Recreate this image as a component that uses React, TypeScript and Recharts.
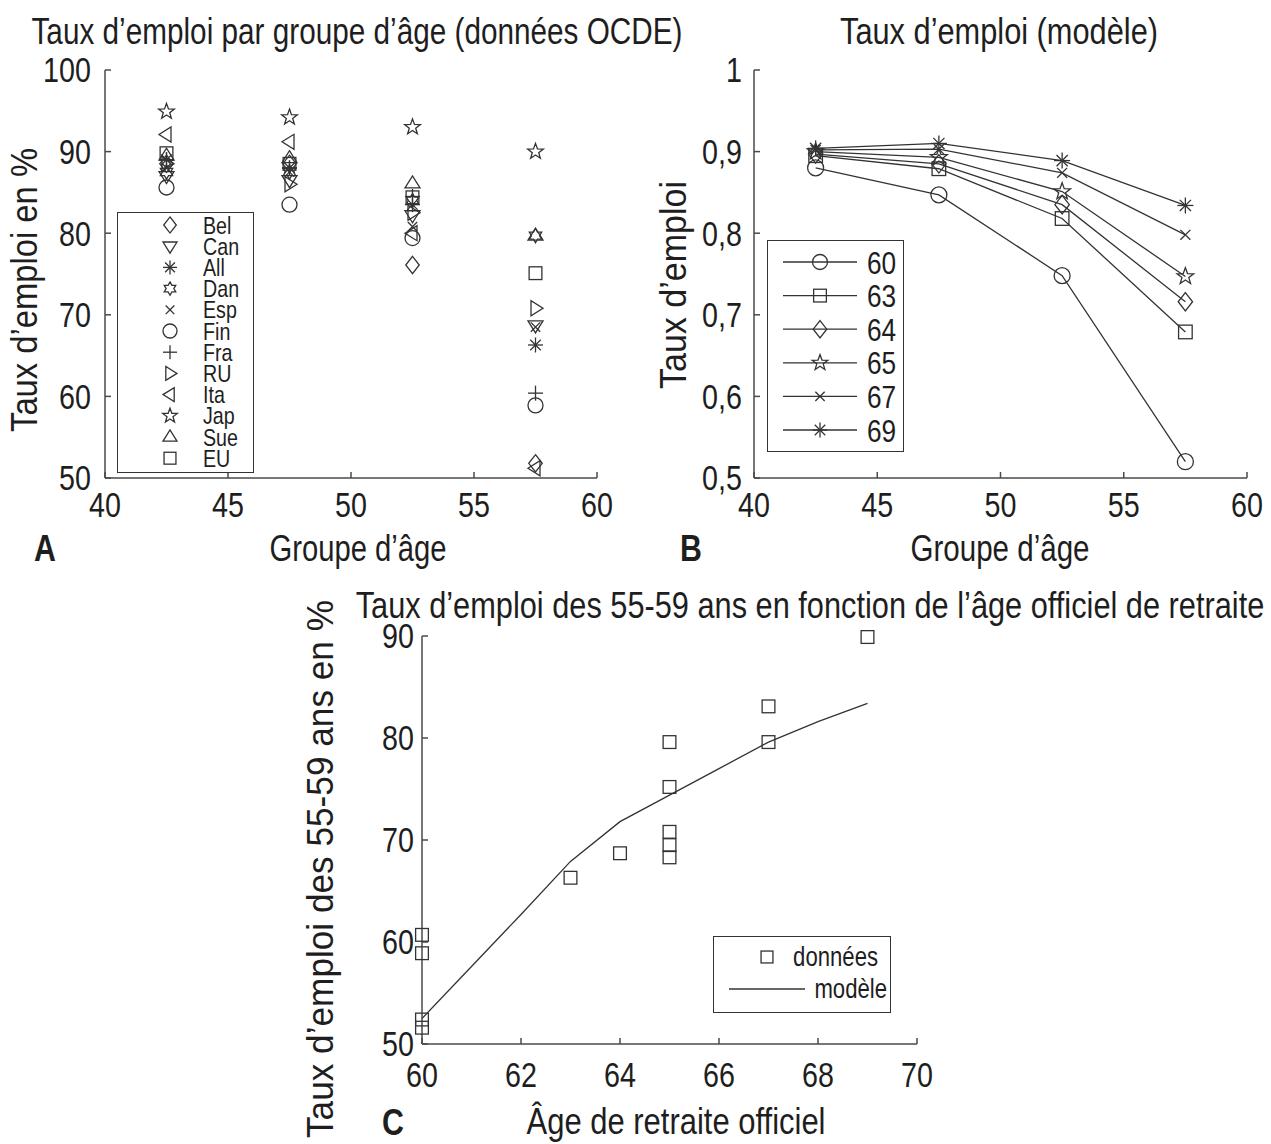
import React from "react";
import {
  ScatterChart,
  Scatter,
  Line,
  ComposedChart,
  XAxis,
  YAxis,
  Legend,
} from "recharts";

const FONT = "'Liberation Sans', Arial, sans-serif";
const NARROW = 0.82; // squeeze to mimic a condensed face
const INK = "#1e1e1e";
const AXIS = "#4a4a4a";
const LINE = "#333333";
const TICK_SIZE = 35;

type MarkerKind = "o" | "s" | "d" | "v" | "^" | "<" | ">" | "*" | "x" | "+" | "p" | "h";

// ---- panel A : OECD data by age group
const groupAges = [42.5, 47.5, 52.5, 57.5];
const countryNames = ["Bel", "Can", "All", "Dan", "Esp", "Fin", "Fra", "RU", "Ita", "Jap", "Sue", "EU"];
const countryMarkers: MarkerKind[] = ["d", "v", "*", "h", "x", "o", "+", ">", "<", "p", "^", "s"];
const belRates = [88.5, 88.5, 76.1, 51.8];
const canRates = [87, 86.5, 82.2, 68.7];
const allRates = [89, 88, 83.5, 66.3];
const danRates = [87.5, 87.5, 84, 79.7];
const espRates = [88, 87.5, 80.8, 68.5];
const finRates = [85.6, 83.5, 79.4, 58.9];
const fraRates = [89, 88, 84.5, 60.4];
const ruRates = [88.5, 86, 82.5, 70.8];
const itaRates = [92.1, 91.2, 80, 51.2];
const japRates = [94.9, 94.2, 93, 90];
const sueRates = [89.5, 89.2, 86.1, 79.7];
const euRates = [89.8, 88.5, 84.4, 75.1];
const countryRates = [belRates, canRates, allRates, danRates, espRates, finRates, fraRates, ruRates, itaRates, japRates, sueRates, euRates];
const ageTicks = [40, 45, 50, 55, 60];
const pctTicksA = [50, 60, 70, 80, 90, 100];

// ---- panel B : model
const modelLabels = ["60", "63", "64", "65", "67", "69"];
const modelMarkers: MarkerKind[] = ["o", "s", "d", "p", "x", "*"];
const model60 = [0.88, 0.847, 0.748, 0.52];
const model63 = [0.895, 0.879, 0.818, 0.679];
const model64 = [0.897, 0.885, 0.835, 0.716];
const model65 = [0.9, 0.893, 0.851, 0.747];
const model67 = [0.902, 0.903, 0.874, 0.798];
const model69 = [0.904, 0.91, 0.889, 0.834];
const modelSeries = [model60, model63, model64, model65, model67, model69];
const rateTicksB = [0.5, 0.6, 0.7, 0.8, 0.9, 1];

// ---- panel C : 55-59 employment vs official retirement age
const officialAges = [60, 60, 60, 60, 63, 64, 65, 65, 65, 65, 65, 67, 67, 69];
const seniorRates = [60.7, 58.9, 52.4, 51.6, 66.3, 68.7, 79.6, 75.2, 70.8, 69.5, 68.3, 83.1, 79.6, 89.9];
const fitAges = [60, 61, 62, 63, 64, 65, 66, 67, 68, 69];
const fitRates = [52.5, 57.6, 62.7, 67.9, 71.8, 74.4, 77.0, 79.6, 81.6, 83.4];
const retTicks = [60, 62, 64, 66, 68, 70];
const pctTicksC = [50, 60, 70, 80, 90];

const pts = (cx: number, cy: number, list: number[][]) =>
  list.map(([dx, dy]) => `${cx + dx},${cy + dy}`).join(" ");

function starPoints(n: number, outer: number, inner: number, rot: number) {
  const out: number[][] = [];
  for (let i = 0; i < n * 2; i++) {
    const rad = i % 2 === 0 ? outer : inner;
    const a = rot + (Math.PI * i) / n;
    out.push([rad * Math.cos(a), rad * Math.sin(a)]);
  }
  return out;
}

function Marker({ kind, cx, cy, size = 15 }: { kind: MarkerKind; cx: number; cy: number; size?: number }) {
  const r = size / 2;
  const st = { fill: "none", stroke: LINE, strokeWidth: 1.3 };
  switch (kind) {
    case "o":
      return <circle cx={cx} cy={cy} r={r} {...st} />;
    case "s": {
      const h = r * 0.85;
      return <rect x={cx - h} y={cy - h} width={2 * h} height={2 * h} {...st} />;
    }
    case "d":
      return <polygon points={pts(cx, cy, [[0, -r * 1.15], [r * 0.9, 0], [0, r * 1.15], [-r * 0.9, 0]])} {...st} />;
    case "v":
      return <polygon points={pts(cx, cy, [[-r, -r * 0.6], [r, -r * 0.6], [0, r]])} {...st} />;
    case "^":
      return <polygon points={pts(cx, cy, [[-r, r * 0.6], [r, r * 0.6], [0, -r]])} {...st} />;
    case ">":
      return <polygon points={pts(cx, cy, [[-r * 0.6, -r], [-r * 0.6, r], [r, 0]])} {...st} />;
    case "<":
      return <polygon points={pts(cx, cy, [[r * 0.6, -r], [r * 0.6, r], [-r, 0]])} {...st} />;
    case "p":
      return <polygon points={pts(cx, cy, starPoints(5, r * 1.1, r * 0.45, -Math.PI / 2))} {...st} />;
    case "h":
      return <polygon points={pts(cx, cy, starPoints(6, r * 0.95, r * 0.55, -Math.PI / 2))} {...st} />;
    case "+":
      return (
        <g {...st}>
          <line x1={cx - r} y1={cy} x2={cx + r} y2={cy} />
          <line x1={cx} y1={cy - r} x2={cx} y2={cy + r} />
        </g>
      );
    case "x": {
      const d = r * 0.62;
      return (
        <g {...st}>
          <line x1={cx - d} y1={cy - d} x2={cx + d} y2={cy + d} />
          <line x1={cx - d} y1={cy + d} x2={cx + d} y2={cy - d} />
        </g>
      );
    }
    default: {
      const d = r * 0.7;
      return (
        <g {...st}>
          <line x1={cx - r} y1={cy} x2={cx + r} y2={cy} />
          <line x1={cx} y1={cy - r} x2={cx} y2={cy + r} />
          <line x1={cx - d} y1={cy - d} x2={cx + d} y2={cy + d} />
          <line x1={cx - d} y1={cy + d} x2={cx + d} y2={cy - d} />
        </g>
      );
    }
  }
}

interface CTextProps {
  x: number;
  y: number;
  size: number;
  anchor?: "start" | "middle" | "end";
  rotate?: number;
  bold?: boolean;
  width?: number;
  children: React.ReactNode;
}

// condensed-looking text: either squeezed by a fixed factor or fitted to a measured width
function CText({ x, y, size, anchor = "start", rotate = 0, bold = false, width, children }: CTextProps) {
  const fit = width !== undefined;
  return (
    <text
      transform={`translate(${x},${y}) rotate(${rotate})${fit ? "" : ` scale(${NARROW},1)`}`}
      textAnchor={anchor}
      fontSize={size}
      fontFamily={FONT}
      fontWeight={bold ? "bold" : "normal"}
      fill={INK}
      textLength={fit ? width : undefined}
      lengthAdjust={fit ? "spacingAndGlyphs" : undefined}
    >
      {children}
    </text>
  );
}

const commaFmt = (v: number) => (v === 1 ? "1" : v.toFixed(1).replace(".", ","));

const makeTick = (side: "bottom" | "left", fmt?: (v: number) => string) => (p: any) => {
  const v = p.payload.value as number;
  const dy = side === "bottom" ? TICK_SIZE * 0.71 : TICK_SIZE * 0.355;
  return (
    <CText x={p.x} y={p.y + dy} size={TICK_SIZE} anchor={side === "bottom" ? "middle" : "end"}>
      {fmt ? fmt(v) : String(v)}
    </CText>
  );
};

// tick marks only, no label (top and right edges of the box)
const noLabel = () => <g />;

function frameAxes(xDomain: number[], xTicks: number[], yDomain: number[], yTicks: number[], yWidth: number, xHeight: number, yFmt: ((v: number) => string) | undefined, xMargin: number, yMargin: number) {
  return [
    <XAxis key="xb" xAxisId="b" type="number" dataKey="x" domain={xDomain} ticks={xTicks} interval={0}
      height={xHeight} stroke={AXIS} strokeWidth={1.5} tickSize={-6} tickMargin={xMargin} tick={makeTick("bottom")} />,
    <XAxis key="xt" xAxisId="t" orientation="top" type="number" dataKey="x" domain={xDomain} ticks={xTicks} interval={0}
      height={0} stroke={AXIS} strokeWidth={1.5} tickSize={-6} tick={noLabel} />,
    <YAxis key="yl" yAxisId="l" type="number" dataKey="y" domain={yDomain} ticks={yTicks} interval={0}
      width={yWidth} stroke={AXIS} strokeWidth={1.5} tickSize={-6} tickMargin={yMargin} tick={makeTick("left", yFmt)} />,
    <YAxis key="yr" yAxisId="r" orientation="right" type="number" dataKey="y" domain={yDomain} ticks={yTicks} interval={0}
      width={0} stroke={AXIS} strokeWidth={1.5} tickSize={-6} tick={noLabel} />,
  ];
}

function CountryLegend() {
  return (
    <div style={{ width: 137, height: 261, border: `1.5px solid ${LINE}`, boxSizing: "border-box", background: "#fff" }}>
      <svg width={134} height={258} style={{ display: "block" }}>
        {countryNames.map((n, i) => (
          <g key={n}>
            <Marker kind={countryMarkers[i]} cx={52} cy={12 + 21.2 * i} size={14} />
            <CText x={85} y={12 + 21.2 * i + 8.5} size={24}>{n}</CText>
          </g>
        ))}
      </svg>
    </div>
  );
}

function ModelLegend() {
  return (
    <div style={{ width: 137, height: 212, border: `1.5px solid ${LINE}`, boxSizing: "border-box", background: "#fff" }}>
      <svg width={134} height={209} style={{ display: "block" }}>
        {modelLabels.map((n, i) => {
          const y = 21 + 33.6 * i;
          return (
            <g key={n}>
              <line x1={15} x2={89} y1={y} y2={y} stroke={LINE} strokeWidth={1.3} />
              <Marker kind={modelMarkers[i]} cx={52} cy={y} size={15} />
              <CText x={99} y={y + 11.5} size={32}>{n}</CText>
            </g>
          );
        })}
      </svg>
    </div>
  );
}

function FitLegend() {
  return (
    <div style={{ width: 178, height: 77, border: `1.5px solid ${LINE}`, boxSizing: "border-box", background: "#fff" }}>
      <svg width={175} height={74} style={{ display: "block" }}>
        <Marker kind="s" cx={53} cy={20} size={14} />
        <CText x={164} y={29} anchor="end" size={27}>données</CText>
        <line x1={15} x2={91} y1={52} y2={52} stroke={LINE} strokeWidth={1.3} />
        <CText x={173} y={61} anchor="end" size={27}>modèle</CText>
      </svg>
    </div>
  );
}

const legendPos = (left: number, top: number) => ({ left, top, right: "auto", bottom: "auto", width: "auto", height: "auto", lineHeight: 0 });

function PanelA() {
  return (
    <ScatterChart width={640} height={600} margin={{ top: 70, right: 43, bottom: 0, left: 0 }}>
      {frameAxes([40, 60], ageTicks, [50, 100], pctTicksA, 105, 122, undefined, 20, 20)}
      {countryNames.map((n, i) => (
        <Scatter
          key={n}
          name={n}
          xAxisId="b"
          yAxisId="l"
          data={groupAges.map((x, j) => ({ x, y: countryRates[i][j] }))}
          isAnimationActive={false}
          shape={(p: any) => <Marker kind={countryMarkers[i]} cx={p.cx} cy={p.cy} size={15} />}
        />
      ))}
      <Legend layout="vertical" align="center" verticalAlign="middle" wrapperStyle={legendPos(117, 212)} content={() => <CountryLegend />} />
    </ScatterChart>
  );
}

function PanelB() {
  return (
    <ComposedChart width={631} height={600} margin={{ top: 70, right: 24, bottom: 0, left: 0 }}>
      {frameAxes([40, 60], ageTicks, [0.5, 1], rateTicksB, 114, 122, commaFmt, 20, 18)}
      {modelLabels.map((n, i) => (
        <Line
          key={n}
          name={n}
          xAxisId="b"
          yAxisId="l"
          type="linear"
          data={groupAges.map((x, j) => ({ x, y: modelSeries[i][j] }))}
          dataKey="y"
          stroke={LINE}
          strokeWidth={1.3}
          isAnimationActive={false}
          dot={(p: any) => <Marker key={`dot-${n}-${p.index}`} kind={modelMarkers[i]} cx={p.cx} cy={p.cy} size={16} />}
        />
      ))}
      <Legend layout="vertical" align="center" verticalAlign="middle" wrapperStyle={legendPos(127, 240)} content={() => <ModelLegend />} />
    </ComposedChart>
  );
}

function PanelC() {
  const points = officialAges.map((x, i) => ({ x, y: seniorRates[i] }));
  const fit = fitAges.map((x, i) => ({ x, y: fitRates[i] }));
  return (
    <ComposedChart width={660} height={564} margin={{ top: 56, right: 43, bottom: 0, left: 0 }}>
      {frameAxes([60, 70], retTicks, [50, 90], pctTicksC, 122, 100, undefined, 24, 14)}
      <Scatter
        name="données"
        xAxisId="b"
        yAxisId="l"
        data={points}
        isAnimationActive={false}
        shape={(p: any) => <Marker kind="s" cx={p.cx} cy={p.cy} size={15} />}
      />
      <Line
        name="modèle"
        xAxisId="b"
        yAxisId="l"
        data={fit}
        dataKey="y"
        type="linear"
        stroke={LINE}
        strokeWidth={1.3}
        dot={false}
        isAnimationActive={false}
      />
      <Legend layout="vertical" align="center" verticalAlign="middle" wrapperStyle={legendPos(413, 356)} content={() => <FitLegend />} />
    </ComposedChart>
  );
}

export default function App() {
  return (
    <div style={{ position: "absolute", left: 0, top: 0, width: 1271, height: 1144, background: "#fff", overflow: "hidden" }}>
      <div style={{ position: "absolute", left: 0, top: 0 }}><PanelA /></div>
      <div style={{ position: "absolute", left: 640, top: 0 }}><PanelB /></div>
      <div style={{ position: "absolute", left: 300, top: 580 }}><PanelC /></div>
      <svg width={1271} height={1144} style={{ position: "absolute", left: 0, top: 0, pointerEvents: "none" }}>
        <CText x={357} y={44} size={36} anchor="middle" width={651}>Taux d’emploi par groupe d’âge (données OCDE)</CText>
        <CText x={999} y={44} size={36} anchor="middle" width={318}>Taux d’emploi (modèle)</CText>
        <CText x={810} y={618} size={37.5} anchor="middle">Taux d’emploi des 55-59 ans en fonction de l’âge officiel de retraite</CText>
        <CText x={358} y={561} size={36} anchor="middle" width={177}>Groupe d’âge</CText>
        <CText x={1000} y={561} size={36} anchor="middle" width={179}>Groupe d’âge</CText>
        <CText x={676} y={1134} size={36} anchor="middle" width={299}>Âge de retraite officiel</CText>
        <CText x={37} y={290} size={36} anchor="middle" rotate={-90} width={284}>Taux d’emploi en %</CText>
        <CText x={686} y={285} size={36} anchor="middle" rotate={-90} width={208}>Taux d’emploi</CText>
        <CText x={333} y={869} size={36} anchor="middle" rotate={-90} width={538}>Taux d’emploi des 55-59 ans en %</CText>
        <CText x={45} y={561} size={37} anchor="middle" bold>A</CText>
        <CText x={691} y={561} size={37} anchor="middle" bold>B</CText>
        <CText x={393} y={1135} size={37} anchor="middle" bold>C</CText>
      </svg>
    </div>
  );
}
